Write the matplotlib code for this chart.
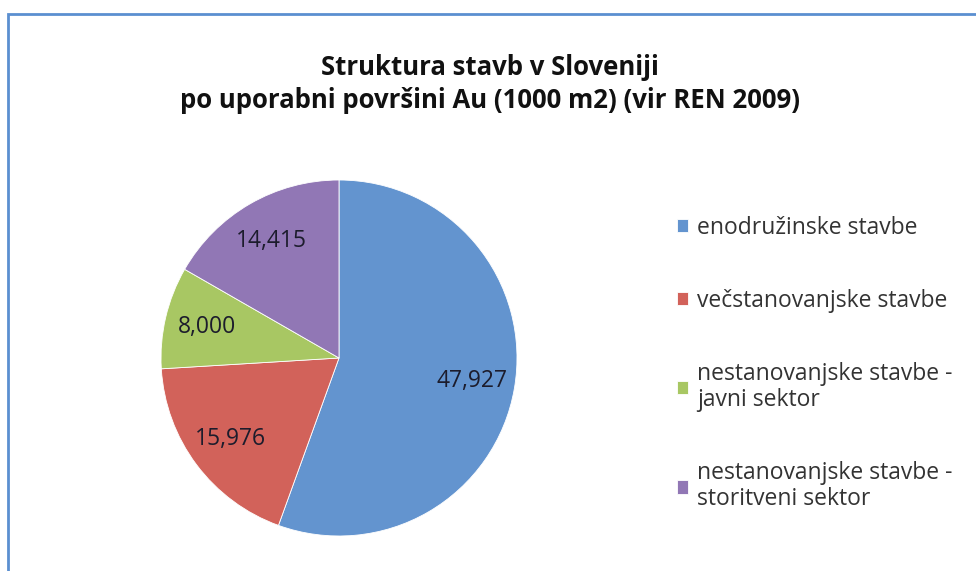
import matplotlib as mpl
mpl.use("Agg")
import matplotlib.pyplot as plt
from matplotlib.patches import Rectangle

plt.rcParams['font.family'] = ['Open Sans', 'DejaVu Sans']

categories = ["enodružinske stavbe",
              "večstanovanjske stavbe",
              "nestanovanjske stavbe -\njavni sektor",
              "nestanovanjske stavbe -\nstoritveni sektor"]
values = [47927, 15976, 8000, 14415]
colors = ["#6394cf", "#d2625a", "#a8c763", "#9177b5"]

total = sum(values)

fig = plt.figure(figsize=(9.76, 5.71), dpi=100)
fig.patch.set_facecolor("white")

# frame around the chart (runs off right/bottom edge like the screenshot)
fig.patches.append(Rectangle((8 / 976, -0.1), 1.1, 1 - 14 / 571 + 0.1,
                             transform=fig.transFigure, fill=False,
                             edgecolor="#5b8fd0", linewidth=2))

ax = fig.add_axes([161 / 976, 35 / 571, 356 / 976, 356 / 571])
wedges, texts, autotexts = ax.pie(
    values, colors=colors, startangle=90, counterclock=False,
    autopct=lambda p: "{:,}".format(int(round(p * total / 100))),
    pctdistance=0.76, radius=1,
    wedgeprops=dict(edgecolor="white", linewidth=0.6),
    textprops=dict(fontsize=16.5, color="#1c1c2c"))
ax.set_xlim(-1, 1)
ax.set_ylim(-1, 1)
ax.set_aspect("equal")

fig.text(490 / 976, 1 - 84 / 571,
         "Struktura stavb v Sloveniji\npo uporabni površini Au (1000 m2) (vir REN 2009)",
         ha="center", va="center", fontsize=18.5, fontweight="bold",
         linespacing=1.3, color="#111111")

leg = fig.legend(wedges, categories, loc="upper left",
                 bbox_to_anchor=(656 / 976, 1 - 195 / 571),
                 frameon=False, fontsize=16.5, labelspacing=2.15,
                 handlelength=0.5, handleheight=0.5, handletextpad=0.4)
for t in leg.get_texts():
    t.set_color("#333333")
    t.set_linespacing(1.1)

fig.savefig("out.png", dpi=100)
